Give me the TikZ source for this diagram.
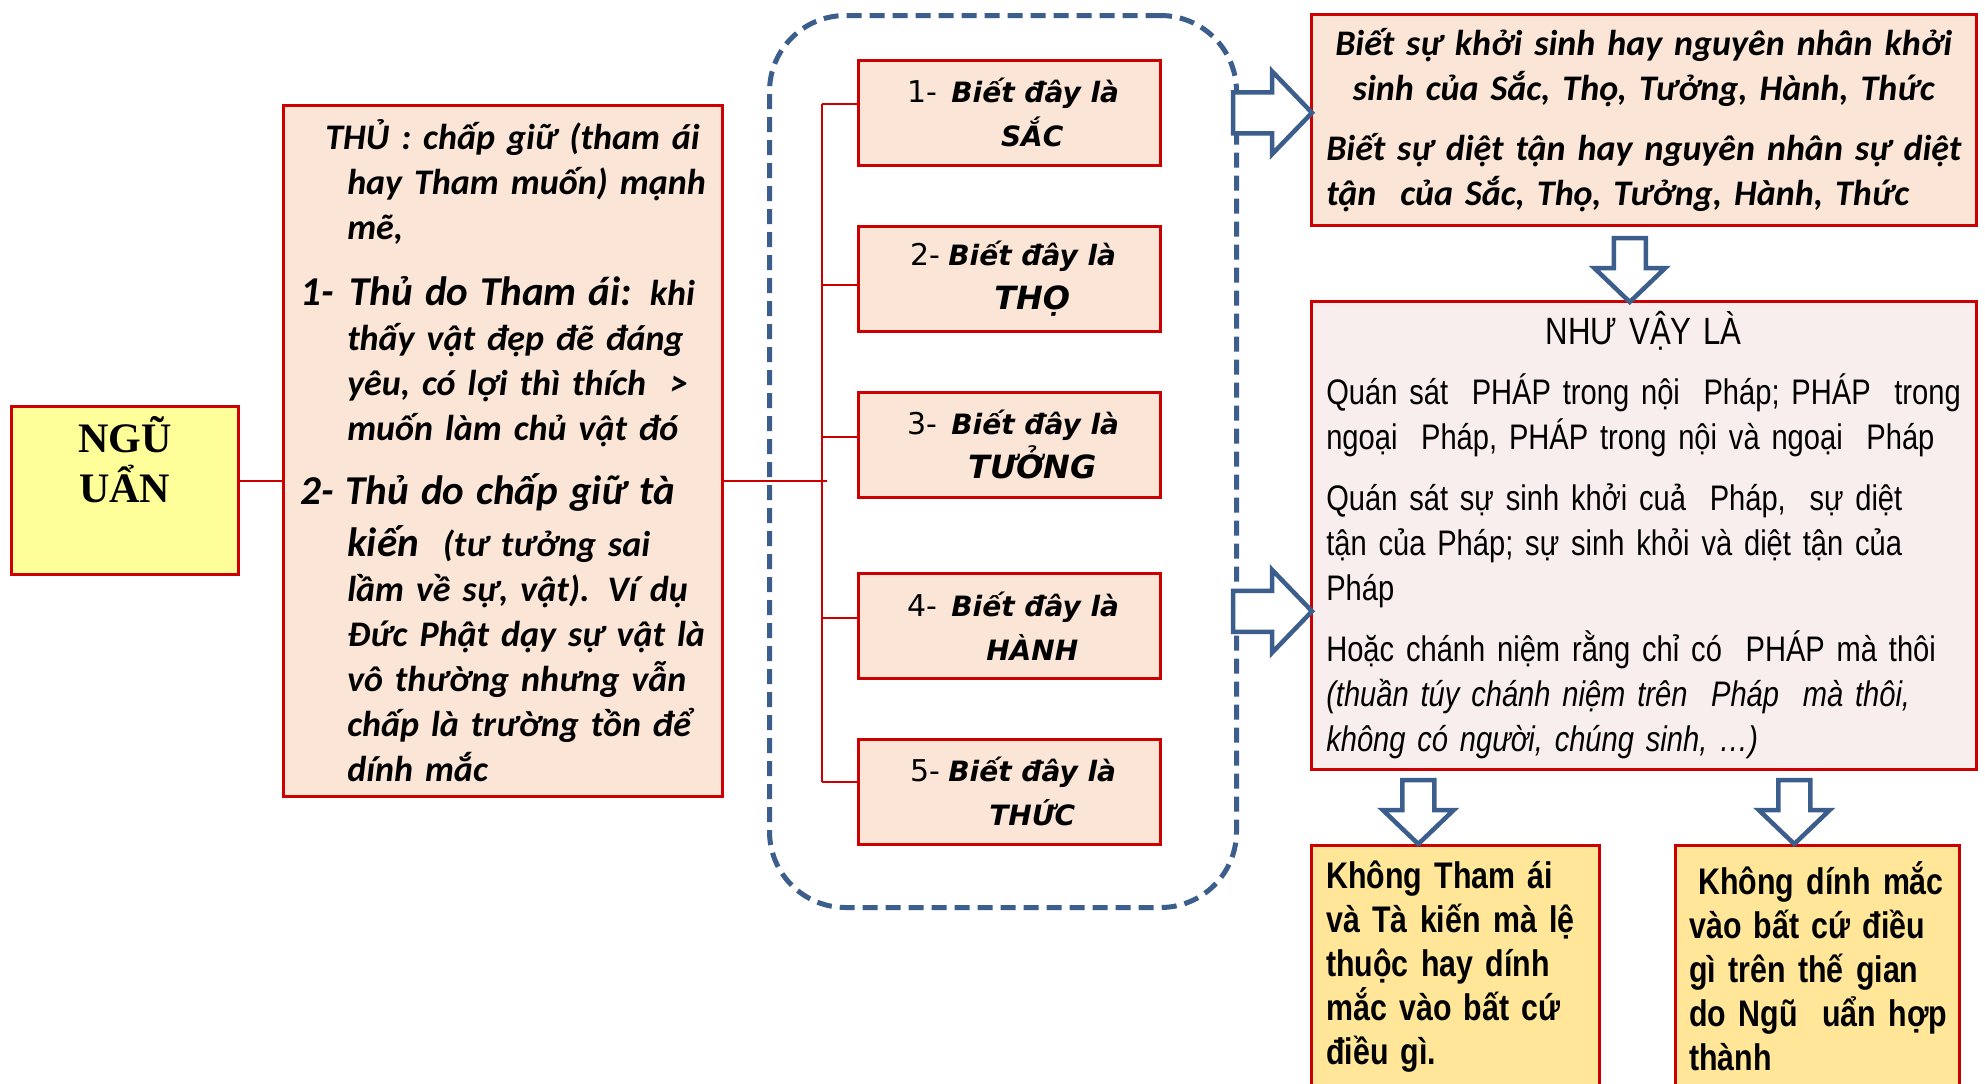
\documentclass[tikz,border=0pt]{standalone}
\usepackage{fontspec}
\setmainfont{Carlito}
\newfontfamily\verdfont{DejaVu Sans}[ItalicFont={DejaVu Sans Oblique},BoldFont={DejaVu Sans Bold},BoldItalicFont={DejaVu Sans Bold Oblique}]
\newfontfamily\narrowfont{Liberation Sans}[FakeStretch=0.82]
\newfontfamily\serifbold{Liberation Serif}
\usetikzlibrary{calc}
\setlength\parindent{0pt}

\definecolor{boxred}{HTML}{CC0000}
\definecolor{peach}{HTML}{FBE5D6}
\definecolor{blush}{HTML}{F8EEED}
\definecolor{lemon}{HTML}{FFFF99}
\definecolor{gold}{HTML}{FFE699}
\definecolor{steel}{HTML}{3B5E8C}

\newcommand\contind{\hspace*{47bp}}
\newcommand\bigsz{\fontsize{41bp}{45bp}\selectfont}
\newcommand\bi[1]{\textbf{\textit{#1}}}
\newcommand\num[1]{{\fontsize{30bp}{44bp}\selectfont #1}}
\newcommand\wide[1]{{\fontsize{32bp}{44bp}\selectfont\bi{#1}}}

% block arrows drawn from their tip
\newcommand\rightblock[1]{\draw[blockarrow] (#1) -- ++(-40,-41.5) -- ++(0,21) -- ++(-39,0) -- ++(0,41) -- ++(39,0) -- ++(0,21) -- cycle;}
\newcommand\downblock[1]{\draw[blockarrow] (#1) -- ++(-35.5,-34) -- ++(19.5,0) -- ++(0,-30) -- ++(32,0) -- ++(0,30) -- ++(19.5,0) -- cycle;}

\begin{document}
\begin{tikzpicture}[x=1bp,y=-1bp,
  box/.style={draw=boxred, line width=2.5bp, inner sep=0pt, anchor=north west},
  pinkbox/.style={box, fill=peach},
  stepbox/.style={pinkbox, minimum width=302bp, minimum height=105bp, align=center,
    font=\verdfont\fontsize{28bp}{44bp}\selectfont},
  link/.style={draw=boxred, line width=2bp},
  blockarrow/.style={draw=steel, fill=white, line width=4.5bp, line join=miter},
  groupbox/.style={draw=steel, line width=5bp, dash pattern=on 15bp off 8bp,
    rounded corners=76bp, anchor=north west, inner sep=0pt}]

\useasboundingbox (0,0) rectangle (1985,1083);
\clip (0,0) rectangle (1985,1083);
\fill[white] (0,0) rectangle (1985,1083);

% dashed frame round the five knowledge boxes
\node[groupbox, minimum width=467bp, minimum height=892bp] (grp) at (767,13) {};

% root
\node[box, fill=lemon, minimum width=227bp, minimum height=168bp, align=center,
  font=\serifbold\bfseries\fontsize{42bp}{50bp}\selectfont] (nu) at (10,405)
  {NGŨ\\UẨN\\[12bp]\mbox{}};

% clinging
\node[pinkbox, minimum width=439bp, minimum height=691bp, text width=439bp,
  align=left, font=\fontsize{36bp}{45bp}\selectfont\bfseries\itshape] (thu) at (282,104) {%
\leftskip=17bp
\hspace*{25bp}THỦ :\hspace{12bp}chấp giữ (tham ái\\
\contind hay Tham muốn) mạnh\\
\contind mẽ,\\[21bp]
{\bigsz 1-\hspace{16bp}Thủ do Tham ái:} khi\\
\contind thấy vật đẹp đẽ đáng\\
\contind yêu, có lợi thì thích\ \ >\\
\contind muốn làm chủ vật đó\\[19bp]
{\bigsz 2- Thủ do chấp giữ tà}\\[7bp]
\contind{\bigsz kiến}\ \ (tư tưởng sai\\
\contind lầm về sự, vật). Ví dụ\\
\contind Đức Phật dạy sự vật là\\
\contind vô thường nhưng vẫn\\
\contind chấp là trường tồn để\\
\contind dính mắc\par};

% the five aggregates
\node[stepbox] (s1) at (857,59)  {\hspace*{8bp}\num{1-}\hspace{14bp}\bi{Biết đây là}\\ \hspace*{46bp}\bi{SẮC}};
\node[stepbox] (s2) at (857,225) {\hspace*{8bp}\num{2-}\hspace{8bp}\bi{Biết đây là}\\ \hspace*{46bp}\wide{THỌ}};
\node[stepbox] (s3) at (857,391) {\hspace*{8bp}\num{3-}\hspace{14bp}\bi{Biết đây là}\\ \hspace*{46bp}\wide{TƯỞNG}};
\node[stepbox] (s4) at (857,572) {\hspace*{8bp}\num{4-}\hspace{14bp}\bi{Biết đây là}\\ \hspace*{46bp}\bi{HÀNH}};
\node[stepbox] (s5) at (857,738) {\hspace*{8bp}\num{5-}\hspace{8bp}\bi{Biết đây là}\\ \hspace*{46bp}\bi{THỨC}};

% arising and ceasing
\node[pinkbox, minimum width=665bp, minimum height=211bp, text width=665bp,
  align=left, font=\fontsize{36bp}{45bp}\selectfont\bfseries\itshape] (rt) at (1310,13) {%
\leftskip=15bp
{\centering Biết sự khởi sinh hay nguyên nhân khởi\\ sinh của Sắc, Thọ, Tưởng, Hành, Thức\par}
\vspace{15bp}
Biết sự diệt tận hay nguyên nhân sự diệt\\
tận\ \ của Sắc, Thọ, Tưởng, Hành, Thức\par};

% contemplation
\node[box, fill=blush, minimum width=665bp, minimum height=468bp, text width=665bp,
  align=left, font=\narrowfont\fontsize{35.5bp}{45bp}\selectfont] (nhu) at (1310,300) {%
\leftskip=15bp
{\centering\fontsize{38bp}{45bp}\selectfont NHƯ VẬY LÀ\par}
\vspace{15bp}
Quán sát\ \ PHÁP trong nội\ \ Pháp; PHÁP\ \ trong\\
ngoại\ \ Pháp, PHÁP trong nội và ngoại\ \ Pháp\\[16bp]
Quán sát sự sinh khởi cuả\ \ Pháp,\ \ sự diệt\\
tận của Pháp; sự sinh khỏi và diệt tận của\\
Pháp\\[16bp]
Hoặc chánh niệm rằng chỉ có\ \ PHÁP mà thôi\\
\textit{(thuần túy chánh niệm trên\ \ Pháp\ \ mà thôi,}\\
\textit{không có người, chúng sinh, …)}\par};

% results
\node[box, fill=gold, minimum width=288bp, text width=288bp, inner ysep=16bp,
  align=left, font=\narrowfont\bfseries\fontsize{37bp}{44bp}\selectfont] (bl) at (1310,844) {%
\leftskip=15bp
Không Tham ái\\
và Tà kiến mà lệ\\
thuộc hay dính\\
mắc vào bất cứ\\
điều gì.\par\vspace*{40bp}};
\node[box, fill=gold, minimum width=284bp, text width=284bp, inner ysep=16bp,
  align=left, font=\narrowfont\bfseries\fontsize{37bp}{44bp}\selectfont] (br) at (1674,844) {%
\leftskip=14bp
\hspace*{9bp}Không dính mắc\\
vào bất cứ điều\\
gì trên thế gian\\
do Ngũ\ \ uẩn hợp\\
thành\par\vspace*{40bp}};

% tree connectors
\coordinate (hub) at (827,481);
\coordinate (sp1) at (822,104);
\coordinate (sp2) at (822,285);
\coordinate (sp3) at (822,437);
\coordinate (sp4) at (822,618);
\coordinate (sp5) at (822,782);
\draw[link] (nu.east |- hub) -- (thu.west |- hub);
\draw[link] (thu.east |- hub) -- (hub);
\draw[link] (sp1) -- (sp5);
\foreach \i in {1,...,5} {\draw[link] (sp\i) -- (s\i.west |- sp\i);}

% block arrows
\coordinate (tipA) at ($(rt.west)+(2,-7)$);
\coordinate (tipB) at ($(nhu.west)+(2,76)$);
\coordinate (tipC) at ($(nhu.north)+(-14,2)$);
\coordinate (tipD) at ($(bl.north)+(-37,0)$);
\coordinate (tipE) at ($(br.north)+(-23,0)$);
\rightblock{tipA}
\rightblock{tipB}
\downblock{tipC}
\downblock{tipD}
\downblock{tipE}
\end{tikzpicture}
\end{document}
